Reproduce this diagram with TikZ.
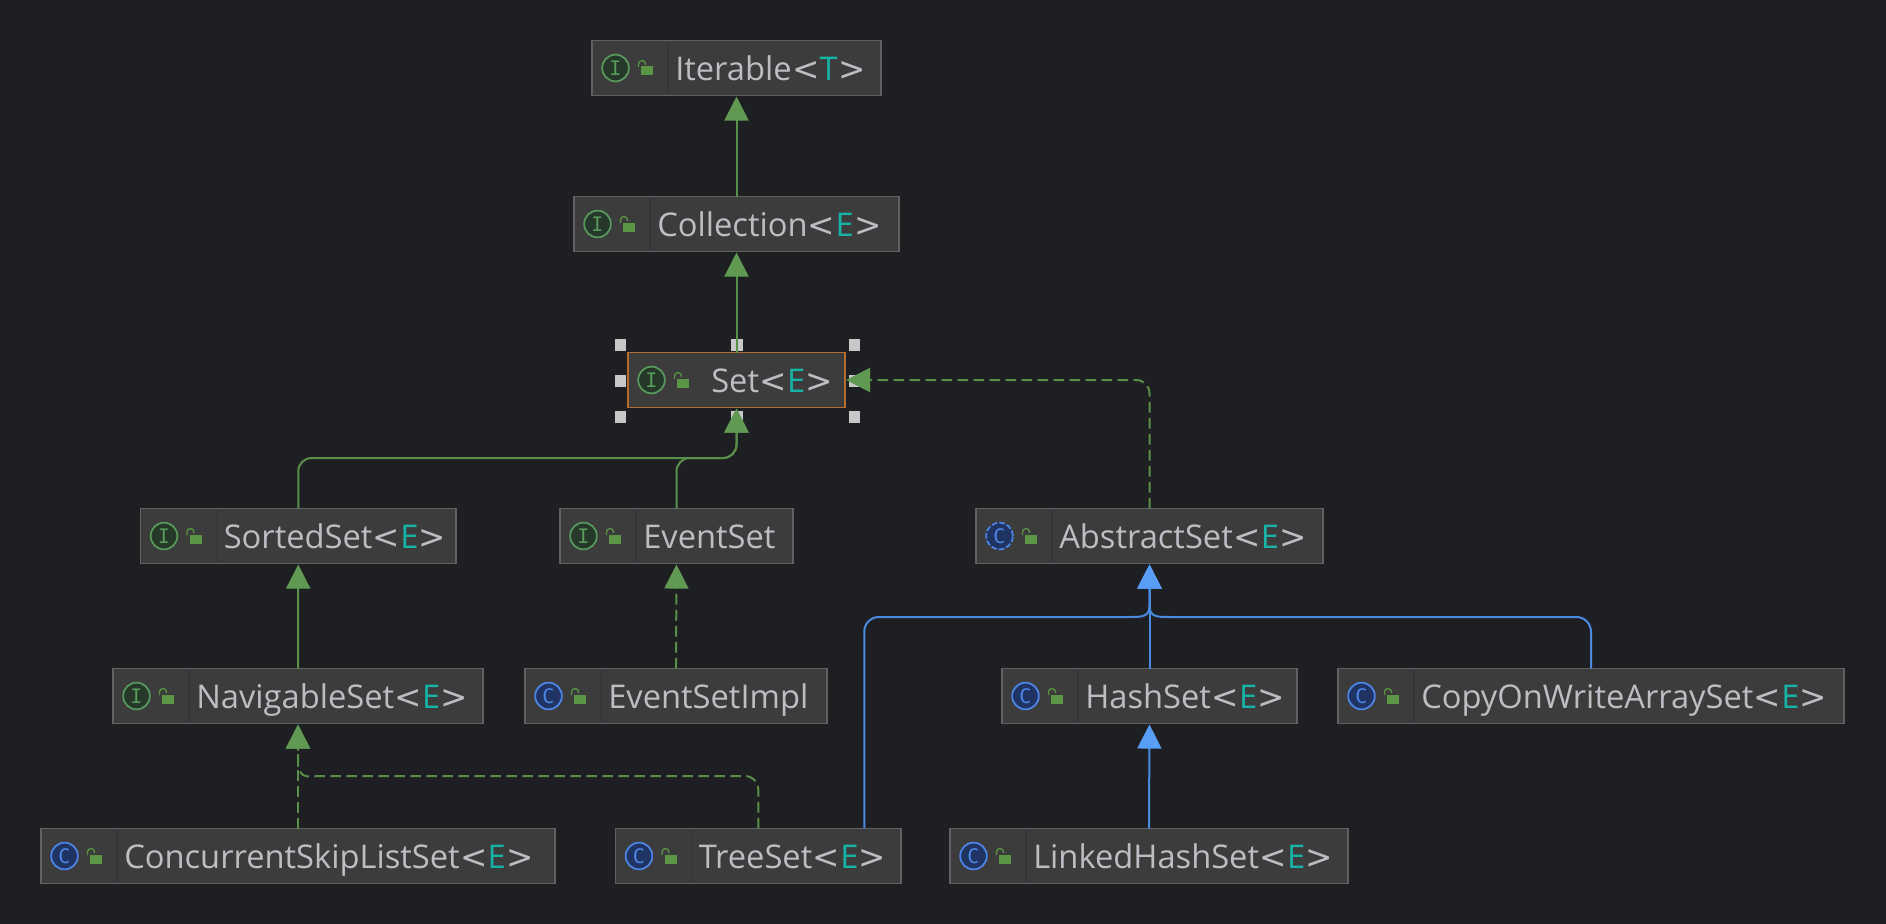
\documentclass[tikz,border=0pt]{standalone}
\usepackage{fontspec}
\setmainfont{Open Sans}
\newfontfamily\iconfont{DejaVu Sans Mono}
\newfontfamily\brk{DejaVu Sans}
\usetikzlibrary{arrows.meta,calc}
\definecolor{bgc}{HTML}{1E1F22}
\definecolor{boxfill}{HTML}{3C3C3C}
\definecolor{boxline}{HTML}{606161}
\definecolor{divc}{HTML}{353637}
\definecolor{txt}{HTML}{BCBEC4}
\definecolor{param}{HTML}{17B3A6}
\definecolor{grn}{HTML}{5A8F4A}
\definecolor{grnh}{HTML}{609A52}
\definecolor{blu}{HTML}{4A8AE0}
\definecolor{bluh}{HTML}{589DF6}
\definecolor{lockc}{HTML}{5A9645}
\definecolor{ifill}{HTML}{25382A}
\definecolor{iline}{HTML}{589A5C}
\definecolor{cfill}{HTML}{1F3463}
\definecolor{cline}{HTML}{4D85E8}
\definecolor{sel}{HTML}{B56C2C}
\definecolor{hnd}{HTML}{C8C8C8}
\tikzset{
  clsbox/.style={draw=boxline,fill=boxfill,line width=0.9pt,inner sep=0pt,minimum height=41.2pt,outer sep=0pt},
  selbox/.style={clsbox,draw=sel},
  lbl/.style={anchor=base west,inner sep=0pt,text=txt,font=\fontsize{24.5pt}{28pt}\selectfont},
  iconbase/.style={circle,line width=1.3pt,inner sep=0pt,minimum size=20pt,font=\iconfont\fontsize{15pt}{16pt}\selectfont},
  ifaceicon/.style={iconbase,draw=iline,fill=ifill,text=iline},
  classicon/.style={iconbase,draw=cline,fill=cfill,text=cline},
  absicon/.style={iconbase,draw=cline,fill=cfill,text=cline,dash pattern=on 4.2pt off 1.6pt},
  handle/.style={fill=hnd,draw=none,minimum size=8.4pt,inner sep=0pt},
  inhg/.style={draw=grn,line width=1.5pt,shorten >=0.8pt,-{Triangle[length=18pt,width=18pt,color=grnh]}},
  impg/.style={inhg,dash pattern=on 8pt off 4pt},
  inhb/.style={draw=blu,line width=1.5pt,shorten >=0.8pt,-{Triangle[length=18pt,width=18pt,color=bluh]}},
}
\newcommand{\Tp}[1]{\textcolor{param}{#1}}
\newcommand{\Lt}{{\brk\kern0.3pt <\kern0.2pt}}
\newcommand{\Gt}{{\brk\kern0.2pt >}}
% name, left, right, ymid, box style, icon style, icon letter, label
\newcommand{\cbox}[8]{%
  \node[#5,minimum width={(#3-#2-1)*0.75pt}] (#1) at ({(#2+#3)/2+0.5},#4) {};
  \begin{scope}[shift={(#2,#4)}]
    \node[#6] (#1i) at (24.5,0) {#7};
    \fill[lockc] (50,-1.5) rectangle (62,7.5);
    \draw[lockc,line width=1pt] (47.5,-1) -- (47.5,-4) arc[start angle=180,end angle=0,x radius=3.5,y radius=-3.5] -- (54.5,-3);
    \node[lbl] (#1t) at (84,12.8) {#8};
  \end{scope}}
\newcommand{\cdiv}[2]{\draw[divc,line width=0.9pt] ([xshift=57pt,yshift=-1pt]#1.north west) -- ([xshift=57pt,yshift=1pt]#1.south west);}
\begin{document}
\begin{tikzpicture}[x=0.75pt,y=-0.75pt]
\fill[bgc] (0,0) rectangle (1886,924);
\useasboundingbox (0,0) rectangle (1886,924);
% selection handles
\foreach \hx/\hy/\hn in {620.5/345/a,737/345/b,854.5/345/c,620.5/381/d,854.5/381/e,620.5/417/f,737/417/g,854.5/417/h}
  \node[handle] (h\hn) at (\hx,\hy) {};
% boxes
\cbox{iter}{591}{881}{68}{clsbox}{ifaceicon}{I}{Iterable\Lt\Tp{T}\Gt}
\cbox{coll}{573}{899}{224}{clsbox}{ifaceicon}{I}{Collection\Lt\Tp{E}\Gt}
\cbox{set}{627}{845}{380}{selbox}{ifaceicon}{I}{Set\Lt\Tp{E}\Gt}
\cbox{sorted}{139.5}{456}{536}{clsbox}{ifaceicon}{I}{SortedSet\Lt\Tp{E}\Gt}
\cbox{eventset}{559}{793}{536}{clsbox}{ifaceicon}{I}{EventSet}
\cbox{abs}{975}{1323}{536}{clsbox}{absicon}{C}{AbstractSet\Lt\Tp{E}\Gt}
\cbox{nav}{112}{483}{696}{clsbox}{ifaceicon}{I}{NavigableSet\Lt\Tp{E}\Gt}
\cbox{impl}{524}{827}{696}{clsbox}{classicon}{C}{EventSetImpl}
\cbox{hash}{1001}{1297}{696}{clsbox}{classicon}{C}{HashSet\Lt\Tp{E}\Gt}
\cbox{cow}{1337}{1844}{696}{clsbox}{classicon}{C}{CopyOnWriteArraySet\Lt\Tp{E}\Gt}
\cbox{skip}{40}{555}{856}{clsbox}{classicon}{C}{ConcurrentSkipListSet\Lt\Tp{E}\Gt}
\cbox{tree}{614.5}{901}{856}{clsbox}{classicon}{C}{TreeSet\Lt\Tp{E}\Gt}
\cbox{linked}{949}{1348}{856}{clsbox}{classicon}{C}{LinkedHashSet\Lt\Tp{E}\Gt}
\foreach \n in {iter,coll,sorted,eventset,abs,nav,impl,hash,cow,skip,tree,linked} {\cdiv{\n}{}}
% bus levels
\coordinate (busSet) at (0,458);
\coordinate (busAbs) at (0,617);
\coordinate (busNav) at (0,776);
\coordinate (joinAbs) at (0,606);
\coordinate (joinNav) at (0,765);
\coordinate (treePort) at ([xshift=79.5pt]tree.north);
% connectors
\draw[inhg] (coll.north) -- (iter.south);
\draw[inhg] (set.north) -- (coll.south);
\draw[inhg,rounded corners=10pt] (sorted.north) -- (sorted.north |- busSet) -- (set.south |- busSet) -- (set.south);
\draw[inhg,rounded corners=10pt] (eventset.north) -- (eventset.north |- busSet) -- (set.south |- busSet) -- (set.south);
\draw[impg,rounded corners=10pt] (abs.north) |- (set.east);
\draw[inhg] (nav.north) -- (sorted.south);
\draw[impg] (impl.north) -- (eventset.south);
\draw[impg] (skip.north) -- (nav.south);
\draw[impg] (tree.north) [rounded corners=10pt] -- (tree.north |- busNav) [sharp corners] -- ([xshift=18pt]nav.south |- busNav) .. controls ([xshift=8pt]nav.south |- busNav) and ([xshift=2pt,yshift=-3pt]nav.south |- busNav) .. (nav.south |- joinNav) -- (nav.south);
\draw[inhb] (hash.north) -- (abs.south);
\draw[inhb] (linked.north) -- (hash.south);
\draw[inhb] (treePort) [rounded corners=11pt] -- (treePort |- busAbs) [sharp corners] -- ([xshift=-15pt]abs.south |- busAbs) .. controls ([xshift=-6pt]abs.south |- busAbs) and (abs.south |- busAbs) .. (abs.south |- joinAbs) -- (abs.south);
\draw[inhb] (cow.north) [rounded corners=11pt] -- (cow.north |- busAbs) [sharp corners] -- ([xshift=15pt]abs.south |- busAbs) .. controls ([xshift=6pt]abs.south |- busAbs) and (abs.south |- busAbs) .. (abs.south |- joinAbs) -- (abs.south);
\end{tikzpicture}
\end{document}
